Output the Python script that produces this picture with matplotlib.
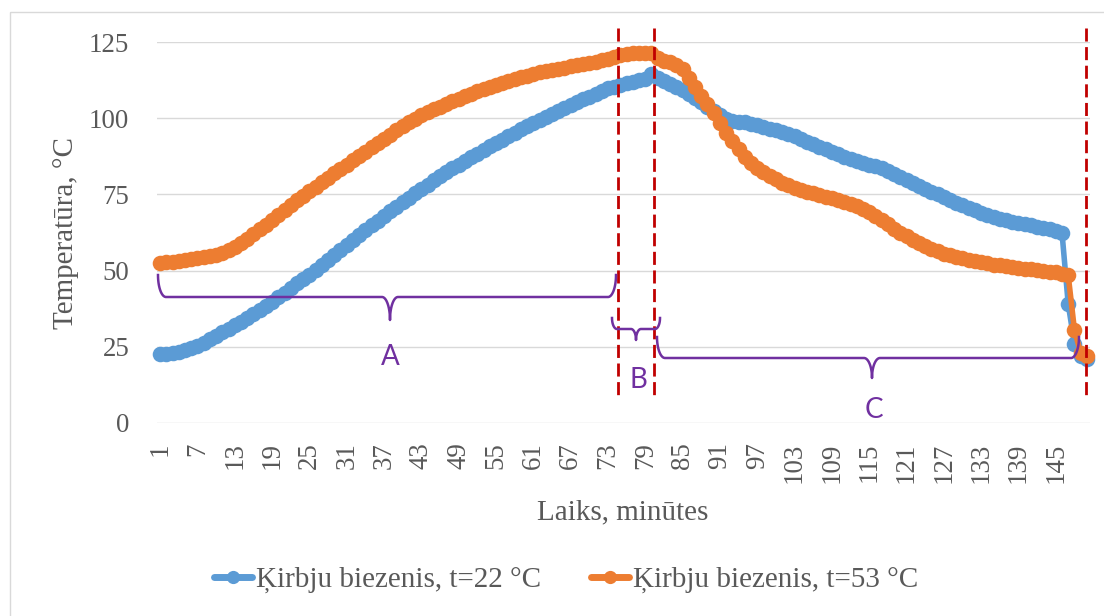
import numpy as np
import matplotlib
matplotlib.use("Agg")
import matplotlib.pyplot as plt
from matplotlib.lines import Line2D
from matplotlib.patches import Rectangle
from matplotlib.transforms import Affine2D

# ---------------- data ----------------
minutes = list(range(1, 151))

puree_22 = [
    22.5, 22.7, 23.0, 23.4, 23.9, 24.5, 25.3, 26.2, 27.6, 28.6,
    29.7, 30.9, 32.0, 33.3, 34.6, 35.9, 37.2, 38.5, 39.8, 41.3,
    42.8, 44.3, 45.8, 47.2, 48.7, 50.3, 51.9, 53.5, 55.2, 56.8,
    58.4, 60.0, 61.7, 63.3, 64.9, 66.4, 67.9, 69.4, 70.9, 72.4,
    73.9, 75.3, 76.8, 78.2, 79.6, 80.9, 82.2, 83.5, 84.8, 86.0,
    87.2, 88.4, 89.6, 90.8, 91.9, 93.0, 94.1, 95.2, 96.3, 97.4,
    98.4, 99.4, 100.4, 101.4, 102.4, 103.4, 104.4, 105.3, 106.2, 107.1,
    108.0, 108.9, 109.8, 110.4, 111.0, 111.5, 112.0, 112.5, 113.0, 114.5,
    113.3, 112.2, 111.2, 110.2, 109.1, 108.0, 106.7, 105.2, 103.8, 102.4,
    101.1, 99.9, 99.1, 98.8, 98.6, 98.2, 97.7, 97.1, 96.6, 96.1,
    95.5, 94.8, 94.0, 93.2, 92.3, 91.4, 90.6, 89.8, 89.0, 88.1,
    87.2, 86.6, 86.0, 85.4, 84.8, 84.2, 83.5, 82.6, 81.6, 80.7,
    79.6, 78.8, 77.8, 76.9, 75.9, 75.0, 74.1, 73.2, 72.3, 71.5,
    70.6, 69.8, 69.0, 68.3, 67.6, 67.0, 66.5, 66.1, 65.6, 65.2,
    64.8, 64.4, 64.0, 63.5, 63.0, 62.4, 39.0, 26.0, 22.0, 21.0,
]

puree_53 = [
    52.6, 52.7, 52.9, 53.1, 53.4, 53.7, 54.0, 54.3, 54.7, 55.2,
    55.9, 56.8, 57.8, 59.0, 60.4, 61.9, 63.5, 65.1, 66.7, 68.3,
    69.9, 71.5, 73.0, 74.5, 76.0, 77.5, 79.0, 80.5, 82.0, 83.4,
    84.8, 86.2, 87.6, 89.0, 90.4, 91.8, 93.2, 94.6, 96.0, 97.3,
    98.6, 99.8, 100.9, 101.9, 102.9, 103.8, 104.7, 105.6, 106.4, 107.2,
    108.0, 108.8, 109.6, 110.3, 111.0, 111.7, 112.3, 112.9, 113.5, 114.0,
    114.5, 115.0, 115.4, 115.8, 116.2, 116.6, 117.0, 117.4, 117.8, 118.2,
    118.6, 119.0, 119.5, 120.0, 120.6, 121.1, 121.4, 121.5, 121.5, 121.4,
    119.8, 118.9, 118.4, 117.6, 116.0, 113.2, 110.2, 107.3, 104.6, 101.8,
    98.5, 95.3, 92.5, 89.8, 87.4, 85.3, 83.6, 82.2, 81.0, 79.9,
    78.9, 78.0, 77.2, 76.5, 75.9, 75.3, 74.8, 74.3, 73.8, 73.2,
    72.6, 72.0, 71.2, 70.2, 69.2, 68.0, 66.7, 65.2, 63.7, 62.4,
    61.2, 60.1, 59.0, 58.0, 57.1, 56.3, 55.6, 55.0, 54.5, 54.0,
    53.6, 53.2, 52.8, 52.4, 52.0, 51.7, 51.4, 51.1, 50.9, 50.6,
    50.4, 50.2, 49.9, 49.7, 49.4, 49.0, 48.4, 30.5, 23.0, 22.0,
]

series_labels = ["Ķirbju biezenis, t=22 °C", "Ķirbju biezenis, t=53 °C"]
series_colors = ["#5B9BD5", "#ED7D31"]
y_ticks = [0, 25, 50, 75, 100, 125]
x_tick_values = minutes[::6]
x_title = "Laiks, minūtes"
y_title = "Temperatūra, °C"
phase_names = ["A", "B", "C"]

# ---------------- style ----------------
plt.rcParams['font.family'] = ['Liberation Serif', 'DejaVu Serif']
plt.rcParams['lines.scale_dashes'] = False
GREY_TXT = '#595959'
GRID = '#D9D9D9'
PURPLE = '#7030A0'
RED = '#C00000'

W, H = 1104, 616
fig = plt.figure(figsize=(W / 100, H / 100), dpi=100)
fig.patch.set_facecolor('white')
pix = Affine2D().scale(1, -1).translate(0, H)   # pixel coords (top-left origin) -> display

L, R, T, B = 157, 1090, 42, 423
ax = fig.add_axes([L / W, 1 - B / H, (R - L) / W, (B - T) / H])

for vals, col, lab in zip([puree_22, puree_53], series_colors, series_labels):
    ax.plot(minutes, vals, color=col, lw=4.0, marker='o', ms=11.2, mfc=col, mec=col,
            mew=0, solid_joinstyle='round', solid_capstyle='round', label=lab,
            clip_on=False, zorder=3)

ax.set_xlim(0.5, 150.5)
ax.set_ylim(0, 125)
ax.set_yticks(y_ticks)
ax.set_xticks(x_tick_values)
ax.set_xticklabels([str(v) for v in x_tick_values], rotation=90, va='top', ha='center')
ax.tick_params(axis='both', length=0, labelsize=19.4, labelcolor=GREY_TXT)
ax.tick_params(axis='x', pad=14)
ax.tick_params(axis='y', pad=20)
for s in ax.spines.values():
    s.set_visible(False)
ax.yaxis.grid(True, color=GRID, lw=1.0)
ax.set_axisbelow(True)

# chart area border (only left/top visible in the crop)
fig.add_artist(Rectangle((10, 12), 1300, 800, transform=pix, fill=False,
                         edgecolor=GRID, lw=1.0))

# axis titles
fig.text(623, 519, x_title, transform=pix, ha='center', va='baseline',
         fontsize=21, color=GREY_TXT)
fig.text(73, 233, y_title, transform=pix, rotation=90, rotation_mode='anchor',
         ha='center', va='baseline', fontsize=21, color=GREY_TXT)

# legend
handles = [Line2D([], [], color=c, lw=5, marker='o', ms=9.5, mew=0,
                  solid_capstyle='round') for c in series_colors]
fig.legend(handles, series_labels, loc='center', bbox_to_anchor=(566 / W, 1 - 580 / H),
           ncol=2, frameon=False, fontsize=21, handlelength=1.3, handletextpad=0.15,
           columnspacing=1.7, borderpad=0, labelcolor=GREY_TXT)

# phase separators (red dashed)
for xp in [618, 654, 1086]:
    fig.add_artist(Line2D([xp, xp], [28, 396], transform=pix, color=RED, lw=2.0,
                          dashes=(9.4, 4.0), zorder=5))


def brace(x0, x1, xm, ytop, ymid, ytip, r):
    t = np.linspace(0, np.pi / 2, 25)
    h1 = ymid - ytop
    h2 = ytip - ymid
    xs = list(x0 + r - r * np.cos(t)); ys = list(ytop + h1 * np.sin(t))
    xs += list(xm - r + r * np.sin(t)); ys += list(ytip - h2 * np.cos(t))
    xs += list(xm + r - r * np.cos(t)); ys += list(ytip - h2 * np.sin(t))
    xs += list(x1 - r + r * np.sin(t)); ys += list(ytop + h1 * np.cos(t))
    fig.add_artist(Line2D(xs, ys, transform=pix, color=PURPLE, lw=1.8,
                          solid_joinstyle='round', zorder=6))


brace(158, 616, 390, 275, 297, 320, 8)
brace(612, 660, 636, 318, 329, 340, 5)
brace(657, 1079, 872, 337, 358, 378, 8)

for name, (xp, yp) in zip(phase_names, [(390, 357), (638, 380), (874, 410)]):
    fig.text(xp, yp, name, transform=pix, ha='center', va='center', fontsize=20,
             color=PURPLE, family=['Lato', 'DejaVu Sans'], zorder=6)

fig.savefig('out.png', dpi=100, facecolor='white')
